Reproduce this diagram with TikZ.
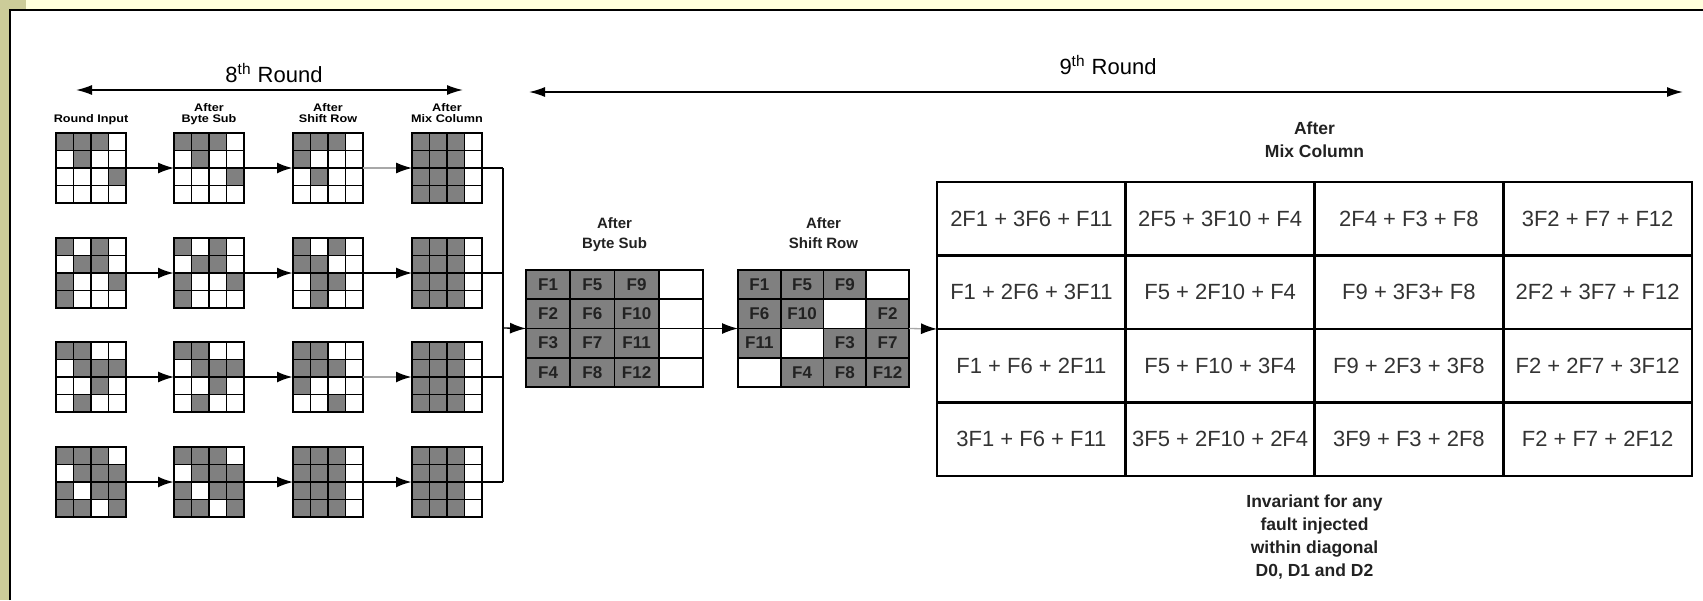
\documentclass[tikz,border=0pt]{standalone}
\usepackage{fontspec}
\setmainfont{Liberation Sans}
\newfontfamily\widesans[FakeStretch=1.15]{Liberation Sans}
\usetikzlibrary{arrows.meta,positioning,calc}

\definecolor{slidegreen}{HTML}{CCCC99}
\definecolor{slideyellow}{HTML}{FFFFDD}
\definecolor{cellgray}{HTML}{808080}
\definecolor{linkgray}{HTML}{A8A8A8}
\definecolor{textgray}{HTML}{333333}
\definecolor{textdark}{HTML}{222222}

\tikzset{
  gridbox/.style={minimum size=35pt, inner sep=0pt, outer sep=0pt},
  cellline/.style={draw, line width=0.9pt},
  tablebox/.style={inner sep=0pt, outer sep=0pt},
  fcell/.style={draw, line width=0.9pt, minimum height=14.625pt, inner sep=0pt, outer sep=0pt,
    font=\bfseries\fontsize{8.5}{10}\selectfont, text=textdark},
  mcell/.style={draw, line width=1.4pt, minimum width=94.375pt, minimum height=36.75pt,
    inner sep=0pt, outer sep=0pt, font=\fontsize{11}{13}\selectfont, text=textgray},
  smalllabel/.style={font=\widesans\bfseries\fontsize{5.5}{5.4}\selectfont, align=center, inner sep=0pt},
  midlabel/.style={font=\bfseries\fontsize{7.5}{10}\selectfont, align=center, inner sep=0pt, text=textdark},
  biglabel/.style={font=\bfseries\fontsize{8.75}{11.5}\selectfont, align=center, inner sep=0pt, text=textdark},
  roundlabel/.style={font=\fontsize{11}{13}\selectfont, inner sep=0pt},
  span/.style={{Latex[length=8pt,width=5pt]}-{Latex[length=8pt,width=5pt]}, line width=0.75pt},
  link/.style={-{Latex[length=8pt,width=5.5pt]}, line width=0.65pt},
  thicklink/.style={link, line width=1.25pt},
  greylink/.style={-{Latex[length=8pt,width=5.5pt,color=black]}, draw=linkgray, line width=0.65pt},
  thickgreylink/.style={greylink, line width=1.25pt},
  busline/.style={line width=0.65pt},
}

% 4x4 state: name, centre x, centre y, 16 cells (1 = faulty byte)
\newcommand{\stategrid}[4]{%
  \node[gridbox] (#1) at (#2,#3) {};
  \foreach \bit [count=\k from 0] in {#4} {%
    \pgfmathtruncatemacro{\gr}{floor(\k/4)}%
    \pgfmathtruncatemacro{\gc}{\k-4*\gr}%
    \ifnum\bit=1 \def\cellcol{cellgray}\else\def\cellcol{white}\fi
    \draw[cellline,fill=\cellcol] ($(#1.north west)+(\gc*17.5,\gr*17.5)$) rectangle +(17.5,17.5);
  }%
  \draw[line width=1pt] (#1.north west) rectangle (#1.south east);
}

\begin{document}
\begin{tikzpicture}[x=0.5pt,y=-0.5pt]
\useasboundingbox (0,0) rectangle (1703,600);
% slide background and frame
\fill[white] (0,0) rectangle (1703,600);
\fill[slideyellow] (0,0) rectangle (1703,9);
\fill[slidegreen] (0,0) rectangle (26,9);
\fill[slidegreen] (0,0) rectangle (8.7,600);
\draw[line width=1pt] (9.7,600) -- (9.7,10) -- (1703,10);

% round spans
\coordinate (r8l) at (76,90);
\coordinate (r8r) at (463,90);
\draw[span] (r8l) -- (r8r);
\node[roundlabel] (r8) at (274,73) {8\textsuperscript{th} Round};
\coordinate (r9l) at (529,92);
\coordinate (r9r) at (1683,92);
\draw[span] (r9l) -- (r9r);
\node[roundlabel] (r9) at (1108,65) {9\textsuperscript{th} Round};

% 8th round states, one row per faulty diagonal
\stategrid{g11}{91}{168}{1,1,1,0,0,1,0,0,0,0,0,1,0,0,0,0}
\stategrid{g12}{209}{168}{1,1,1,0,0,1,0,0,0,0,0,1,0,0,0,0}
\stategrid{g13}{328}{168}{1,1,1,0,1,0,0,0,0,1,0,0,0,0,0,0}
\stategrid{g14}{447}{168}{1,1,1,0,1,1,1,0,1,1,1,0,1,1,1,0}

\stategrid{g21}{91}{273}{1,0,1,0,0,1,1,0,1,0,0,1,1,0,0,0}
\stategrid{g22}{209}{273}{1,0,1,0,0,1,1,0,1,0,0,1,1,0,0,0}
\stategrid{g23}{328}{273}{1,0,1,0,1,1,0,0,0,1,1,0,0,1,0,0}
\stategrid{g24}{447}{273}{1,1,1,0,1,1,1,0,1,1,1,0,1,1,1,0}

\stategrid{g31}{91}{377}{1,1,0,0,0,1,1,1,0,0,1,0,0,1,0,0}
\stategrid{g32}{209}{377}{1,1,0,0,0,1,1,1,0,0,1,0,0,1,0,0}
\stategrid{g33}{328}{377}{1,1,0,0,1,1,1,0,1,0,0,0,0,0,1,0}
\stategrid{g34}{447}{377}{1,1,1,0,1,1,1,0,1,1,1,0,1,1,1,0}

\stategrid{g41}{91}{482}{1,1,1,0,0,1,1,1,1,0,1,1,1,1,0,1}
\stategrid{g42}{209}{482}{1,1,1,0,0,1,1,1,1,0,1,1,1,1,0,1}
\stategrid{g43}{328}{482}{1,1,1,0,1,1,1,0,1,1,1,0,1,1,1,0}
\stategrid{g44}{447}{482}{1,1,1,0,1,1,1,0,1,1,1,0,1,1,1,0}

% column headings
\node[smalllabel, above=3.5pt of g11] (lin) {Round Input\strut};
\node[smalllabel, above=3.5pt of g12] (lbs) {After\\Byte Sub\strut};
\node[smalllabel, above=3.5pt of g13] (lsr) {After\\Shift Row\strut};
\node[smalllabel, above=3.5pt of g14] (lmc) {After\\Mix Column\strut};

% transformations inside the 8th round
\draw[link] (g11.east) -- (g12.west);
\draw[thicklink] (g12.east) -- (g13.west);
\draw[greylink] (g13.east) -- (g14.west);
\draw[thicklink] (g21.east) -- (g22.west);
\draw[thicklink] (g22.east) -- (g23.west);
\draw[link] (g23.east) -- (g24.west);
\draw[link] (g31.west) -- (g32.west);
\draw[thicklink] (g32.west) -- (g33.west);
\draw[thickgreylink] (g33.east) -- (g34.west);
\draw[thicklink] (g41.east) -- (g42.west);
\draw[link] (g42.east) -- (g43.west);
\draw[thicklink] (g43.east) -- (g44.west);

% merge into the 9th round
\coordinate (bus) at (503,328);
\foreach \g in {g14,g24,g34,g44}
  \draw[busline] (\g.east) -- (\g.east -| bus);
\draw[busline] (g14.east -| bus) -- (g44.east -| bus);

% 9th round: after byte sub
\node[tablebox, minimum width=88.5pt, minimum height=58.5pt] (bytesub) at (614.5,328.5) {};
\foreach \txt/\col [count=\k from 0] in {F1/cellgray,F5/cellgray,F9/cellgray,/white,F2/cellgray,F6/cellgray,F10/cellgray,/white,F3/cellgray,F7/cellgray,F11/cellgray,/white,F4/cellgray,F8/cellgray,F12/cellgray,/white} {
  \pgfmathtruncatemacro{\gr}{floor(\k/4)}
  \pgfmathtruncatemacro{\gc}{\k-4*\gr}
  \node[fcell, fill=\col, minimum width=22.125pt] (bs\k) at ($(bytesub.north west)+(\gc*44.25+22.125,\gr*29.25+14.625)$) {\txt};
}
\node[midlabel, above=7.5pt of bytesub] (lbytesub) {After\\Byte Sub\strut};

% 9th round: after shift row
\node[tablebox, minimum width=85.5pt, minimum height=58.5pt] (shiftrow) at (823.5,328.5) {};
\foreach \txt/\col [count=\k from 0] in {F1/cellgray,F5/cellgray,F9/cellgray,/white,F6/cellgray,F10/cellgray,/white,F2/cellgray,F11/cellgray,/white,F3/cellgray,F7/cellgray,/white,F4/cellgray,F8/cellgray,F12/cellgray} {
  \pgfmathtruncatemacro{\gr}{floor(\k/4)}
  \pgfmathtruncatemacro{\gc}{\k-4*\gr}
  \node[fcell, fill=\col, minimum width=21.375pt] (sr\k) at ($(shiftrow.north west)+(\gc*42.75+21.375,\gr*29.25+14.625)$) {\txt};
}
\node[midlabel, above=7.5pt of shiftrow] (lshiftrow) {After\\Shift Row\strut};

% 9th round: after mix column
\node[tablebox, minimum width=377.5pt, minimum height=147pt] (mixcol) at (1314.5,329) {};
\foreach \txt [count=\k from 0] in {2F1 + 3F6 + F11,2F5 + 3F10 + F4,2F4 + F3 + F8,3F2 + F7 + F12,F1 + 2F6 + 3F11,F5 + 2F10 + F4,F9 + 3F3+ F8,2F2 + 3F7 + F12,F1 + F6 + 2F11,F5 + F10 + 3F4,F9 + 2F3 + 3F8,F2 + 2F7 + 3F12,3F1 + F6 + F11,3F5 + 2F10 + 2F4,3F9 + F3 + 2F8,F2 + F7 + 2F12} {
  \pgfmathtruncatemacro{\gr}{floor(\k/4)}
  \pgfmathtruncatemacro{\gc}{\k-4*\gr}
  \node[mcell] (mc\k) at ($(mixcol.north west)+(\gc*188.75+94.375,\gr*73.5+36.75)$) {\txt};
}
\node[biglabel, above=12pt of mixcol] (lmixcol) {After\\Mix Column};
\node[biglabel, below=9pt of mixcol] (note) {Invariant for any\\fault injected\\within diagonal\\D0, D1 and D2};

% links between the 9th round states
\draw[link] (bus) -- (bytesub.west);
\draw[link] (bytesub.east) -- (shiftrow.west);
\draw[greylink] (shiftrow.east) -- (mixcol.west);
\end{tikzpicture}
\end{document}
